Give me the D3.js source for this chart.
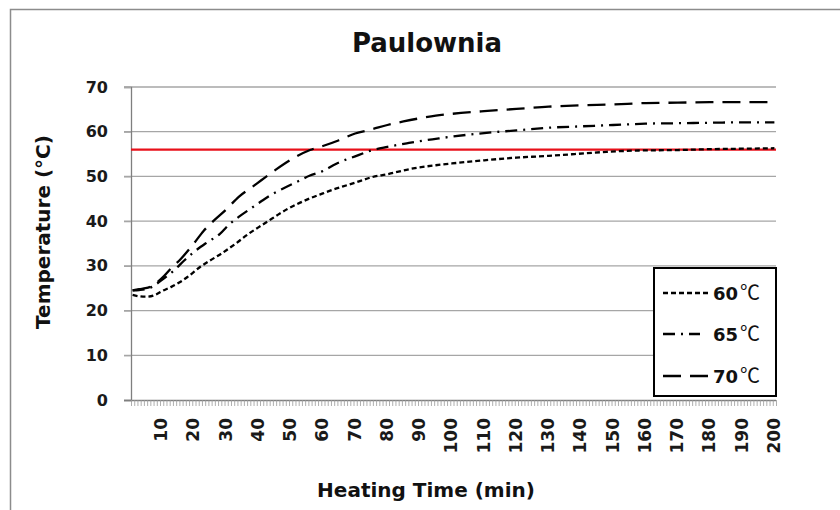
<!DOCTYPE html>
<html>
<head>
<meta charset="utf-8">
<script src="https://cdn.jsdelivr.net/npm/d3@7"></script>
<style>
  body { margin: 0; background: #fff; }
  svg { display: block; }
  text { font-family: "DejaVu Sans", "Noto Sans", sans-serif; }
</style>
</head>
<body>
<svg id="chart" width="840" height="510"></svg>
<script>
// Heating time (min) and temperature readings (°C) for each set-point
const minutes60 = [1, 3, 5, 8, 10, 13, 16, 18, 22, 25, 28, 33, 37, 40, 43, 46, 49, 52, 56, 60, 63, 66, 70, 75, 80, 88, 95, 100, 110, 120, 130, 138, 148, 158, 170, 180, 190, 200];
const temps60   = [23.5, 23.2, 23.1, 23.5, 24.3, 25.3, 26.5, 27.5, 29.8, 31.2, 32.5, 35.0, 37.2, 38.6, 40.0, 41.4, 42.7, 43.8, 45.1, 46.2, 47.0, 47.7, 48.6, 49.8, 50.5, 51.8, 52.5, 52.9, 53.6, 54.2, 54.6, 55.0, 55.5, 55.8, 55.9, 56.1, 56.2, 56.3];

const minutes65 = [1, 3, 5, 7, 10, 14, 17, 20, 24, 28, 31, 34, 38, 41, 44, 48, 52, 56, 60, 64, 70, 75, 80, 86, 90, 96, 100, 110, 120, 130, 140, 150, 160, 170, 180, 190, 200];
const temps65   = [24.5, 24.6, 24.8, 25.3, 26.8, 29.1, 31.2, 33.1, 35.2, 37.1, 39.3, 41.0, 43.0, 44.5, 45.9, 47.4, 48.8, 50.2, 51.2, 52.8, 54.5, 55.8, 56.6, 57.4, 57.9, 58.5, 58.9, 59.7, 60.3, 60.9, 61.2, 61.5, 61.8, 61.9, 62.0, 62.1, 62.1];

const minutes70 = [1, 3, 5, 7, 10, 13, 16, 20, 23, 26, 30, 34, 38, 41, 45, 50, 56, 60, 65, 70, 75, 80, 85, 90, 95, 100, 110, 120, 130, 140, 150, 160, 170, 180, 190, 200];
const temps70   = [24.5, 24.8, 25.0, 25.5, 27.2, 29.5, 31.6, 35.0, 37.8, 40.0, 42.6, 45.5, 47.6, 49.2, 51.3, 53.7, 55.9, 56.8, 58.1, 59.6, 60.5, 61.5, 62.3, 63.0, 63.6, 64.0, 64.6, 65.1, 65.6, 65.9, 66.1, 66.4, 66.5, 66.6, 66.6, 66.6];

const seriesNames = ["60", "65", "70"];
const referenceTemp = 56;
const yTicks = [0, 10, 20, 30, 40, 50, 60, 70];
const xTickLabels = [10, 20, 30, 40, 50, 60, 70, 80, 90, 100, 110, 120, 130, 140, 150, 160, 170, 180, 190, 200];

const series = [
  { name: seriesNames[0], xs: minutes60, ys: temps60, dash: "5,3" },
  { name: seriesNames[1], xs: minutes65, ys: temps65, dash: "12,6,2,6" },
  { name: seriesNames[2], xs: minutes70, ys: temps70, dash: "18,9" }
];

const svg = d3.select("#chart");

// outer chart frame (extends past the right and bottom edges)
svg.append("rect")
  .attr("x", 10.5).attr("y", 9.5)
  .attr("width", 860).attr("height", 520)
  .attr("fill", "#fff").attr("stroke", "#8c8c8c").attr("stroke-width", 1.5);

const plot = { left: 131, right: 776, top: 87, bottom: 400 };

const x = d3.scaleLinear().domain([0.5, 200.5]).range([plot.left, plot.right]);
const y = d3.scaleLinear().domain([0, 70]).range([plot.bottom, plot.top]);

// horizontal gridlines
svg.append("g")
  .selectAll("line")
  .data(yTicks.filter(d => d > 0))
  .join("line")
  .attr("x1", plot.left - 7).attr("x2", plot.right)
  .attr("y1", d => y(d)).attr("y2", d => y(d))
  .attr("stroke", "#a6a6a6").attr("stroke-width", 1.3);

// y axis
const yAxis = svg.append("g")
  .attr("transform", `translate(${plot.left},0)`)
  .call(d3.axisLeft(y).tickValues(yTicks).tickSize(7).tickPadding(16));
yAxis.select(".domain").attr("stroke", "#7f7f7f").attr("stroke-width", 1.3);
yAxis.selectAll(".tick line").attr("stroke", "#a6a6a6").attr("stroke-width", 1.3);
yAxis.selectAll(".tick text")
  .attr("font-size", 16).attr("font-weight", "bold").attr("fill", "#1a1a1a")
  .style("font-family", "'DejaVu Sans', sans-serif");

// x axis: one minor tick per minute boundary
const boundaries = d3.range(0.5, 201, 1);
const xAxis = svg.append("g")
  .attr("transform", `translate(0,${plot.bottom})`)
  .call(d3.axisBottom(x).tickValues(boundaries).tickSize(6).tickFormat(""));
xAxis.select(".domain").attr("stroke", "#7f7f7f").attr("stroke-width", 1.3).attr("d", `M${plot.left - 7},0.5H${plot.right}`);
xAxis.selectAll(".tick line").attr("stroke", "#9a9a9a").attr("stroke-width", 0.8);

// rotated category labels
svg.append("g")
  .selectAll("text")
  .data(xTickLabels)
  .join("text")
  .attr("transform", d => `translate(${x(d) + 5.5},${plot.bottom + 18}) rotate(-90)`)
  .attr("text-anchor", "end")
  .attr("font-size", 17).attr("font-weight", "bold").attr("fill", "#1a1a1a")
  .text(d => d);

// reference temperature line
svg.append("line")
  .attr("x1", plot.left).attr("x2", plot.right)
  .attr("y1", y(referenceTemp)).attr("y2", y(referenceTemp))
  .attr("stroke", "#e8101a").attr("stroke-width", 2.4);

// temperature curves
const line = d3.line()
  .x(d => x(d[0]))
  .y(d => y(d[1]))
  .curve(d3.curveMonotoneX);

svg.append("g")
  .selectAll("path")
  .data(series)
  .join("path")
  .attr("d", s => line(s.xs.map((m, i) => [m, s.ys[i]])))
  .attr("fill", "none")
  .attr("stroke", "#000")
  .attr("stroke-width", 2.3)
  .attr("stroke-dasharray", s => s.dash);

// title and axis titles
svg.append("text")
  .attr("x", 427).attr("y", 52)
  .attr("text-anchor", "middle")
  .attr("font-size", 26).attr("font-weight", "bold").attr("fill", "#111")
  .text("Paulownia");

svg.append("text")
  .attr("transform", "translate(50,232) rotate(-90)")
  .attr("text-anchor", "middle")
  .attr("font-size", 20).attr("font-weight", "bold").attr("fill", "#111")
  .text("Temperature (°C)");

svg.append("text")
  .attr("x", 426).attr("y", 497)
  .attr("text-anchor", "middle")
  .attr("font-size", 20).attr("font-weight", "bold").attr("fill", "#111")
  .text("Heating Time (min)");

// legend
const legend = svg.append("g");
legend.append("rect")
  .attr("x", 654).attr("y", 268)
  .attr("width", 122).attr("height", 128)
  .attr("fill", "#fff").attr("stroke", "#000").attr("stroke-width", 2);

const legendRows = [293, 334, 376];
const legendLineEnd = [709, 700, 709];
series.forEach((s, i) => {
  legend.append("line")
    .attr("x1", 663).attr("x2", legendLineEnd[i])
    .attr("y1", legendRows[i]).attr("y2", legendRows[i])
    .attr("stroke", "#000").attr("stroke-width", 2.3)
    .attr("stroke-dasharray", s.dash);
  const t = legend.append("text")
    .attr("x", 713).attr("y", legendRows[i] + 7)
    .attr("font-size", 18).attr("fill", "#111");
  t.append("tspan").attr("font-weight", "bold").text(s.name);
  t.append("tspan").attr("dx", 2).attr("font-weight", "normal")
    .attr("font-size", 20)
    .style("font-family", "'Noto Sans CJK KR', sans-serif").text("℃");
});
</script>
</body>
</html>
